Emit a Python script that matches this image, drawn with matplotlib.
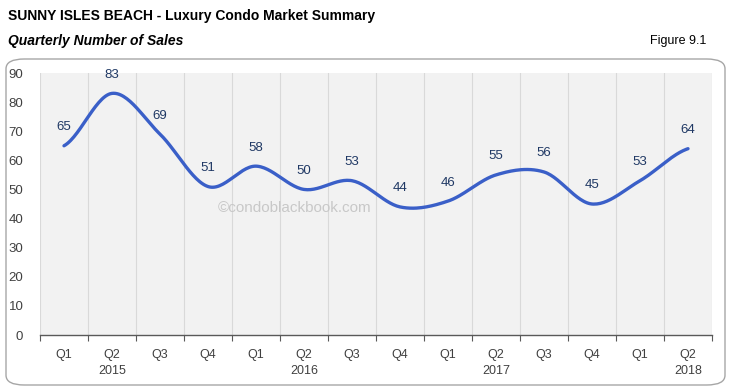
import numpy as np
import matplotlib.pyplot as plt
from matplotlib.patches import FancyBboxPatch

quarters = ["Q1", "Q2", "Q3", "Q4", "Q1", "Q2", "Q3", "Q4",
            "Q1", "Q2", "Q3", "Q4", "Q1", "Q2"]
years = ["", "2015", "", "", "", "2016", "", "", "", "2017", "", "", "", "2018"]
sales = [65, 83, 69, 51, 58, 50, 53, 44, 46, 55, 56, 45, 53, 64]

plt.rcParams['font.family'] = ['Liberation Sans', 'DejaVu Sans']

fig = plt.figure(figsize=(7.3, 3.91), dpi=100)
fig.patch.set_facecolor("white")

# rounded frame around the chart
frame = FancyBboxPatch((6 / 730, 1 - 385 / 391), 719 / 730, 326 / 391,
                       boxstyle="round,pad=0,rounding_size=0.025",
                       transform=fig.transFigure, facecolor="white",
                       edgecolor="#a6a6a6", linewidth=1.0, zorder=-1)
fig.patches.append(frame)

fig.text(8 / 730, 1 - 16 / 391, "SUNNY ISLES BEACH - Luxury Condo Market Summary",
         fontsize=10, fontweight="bold", va="center", ha="left")
fig.text(8 / 730, 1 - 41 / 391, "Quarterly Number of Sales",
         fontsize=10, fontweight="bold", style="italic", va="center", ha="left")
fig.text(706 / 730, 1 - 41 / 391, "Figure 9.1", fontsize=9, va="center", ha="right")

ax = fig.add_axes([40 / 730, 1 - 335 / 391, 672 / 730, 262 / 391])
ax.set_zorder(1)
ax.set_facecolor("#f2f2f2")

n = len(sales)
x = np.arange(n)

# smoothed line (Catmull-Rom through the points)
pts = np.array(sales, dtype=float)
xs, ys = [], []
for i in range(n - 1):
    p0 = pts[i - 1] if i > 0 else pts[i]
    p1, p2 = pts[i], pts[i + 1]
    p3 = pts[i + 2] if i + 2 < n else pts[i + 1]
    t = np.linspace(0, 1, 30)
    y = 0.5 * ((2 * p1) + (-p0 + p2) * t + (2 * p0 - 5 * p1 + 4 * p2 - p3) * t ** 2
               + (-p0 + 3 * p1 - 3 * p2 + p3) * t ** 3)
    xs.extend(i + t)
    ys.extend(y)
ax.plot(xs, ys, color="#3a5fc8", linewidth=2.4, solid_capstyle="round", zorder=3)

for xi, v in zip(x, sales):
    ax.annotate(str(v), (xi, v), xytext=(0, 9), textcoords="offset points",
                ha="center", va="bottom", fontsize=9.5, color="#1f3864", zorder=4)

ax.text(4.8, 43.5, "\u00a9condoblackbook.com", fontsize=11, color="#c8c8c8",
        ha="center", va="center", zorder=2)

ax.set_xlim(-0.5, n - 0.5)
ax.set_ylim(0, 90)
ax.set_yticks(range(0, 91, 10))
ax.tick_params(axis="y", length=0, labelsize=9.5, labelcolor="#404040", pad=12)

for b in np.arange(-0.5, n, 1):
    ax.axvline(b, color="#d9d9d9", linewidth=0.8, zorder=1)

ax.set_xticks(np.arange(-0.5, n, 1))
ax.set_xticklabels([])
ax.tick_params(axis="x", length=4, color="#595959", width=0.8)
ax.set_xticks(x, minor=True)
labels = [q + "\n" + y if y else q for q, y in zip(quarters, years)]
ax.set_xticklabels(labels, minor=True, fontsize=9, color="#404040", va="top")
ax.tick_params(axis="x", which="minor", length=0, pad=10)
for lbl in ax.get_xticklabels(minor=True):
    lbl.set_linespacing(1.5)

for s in ["top", "right", "left"]:
    ax.spines[s].set_visible(False)
ax.spines["bottom"].set_color("#595959")
ax.spines["bottom"].set_linewidth(1.0)

fig.savefig("out.png", dpi=100)
